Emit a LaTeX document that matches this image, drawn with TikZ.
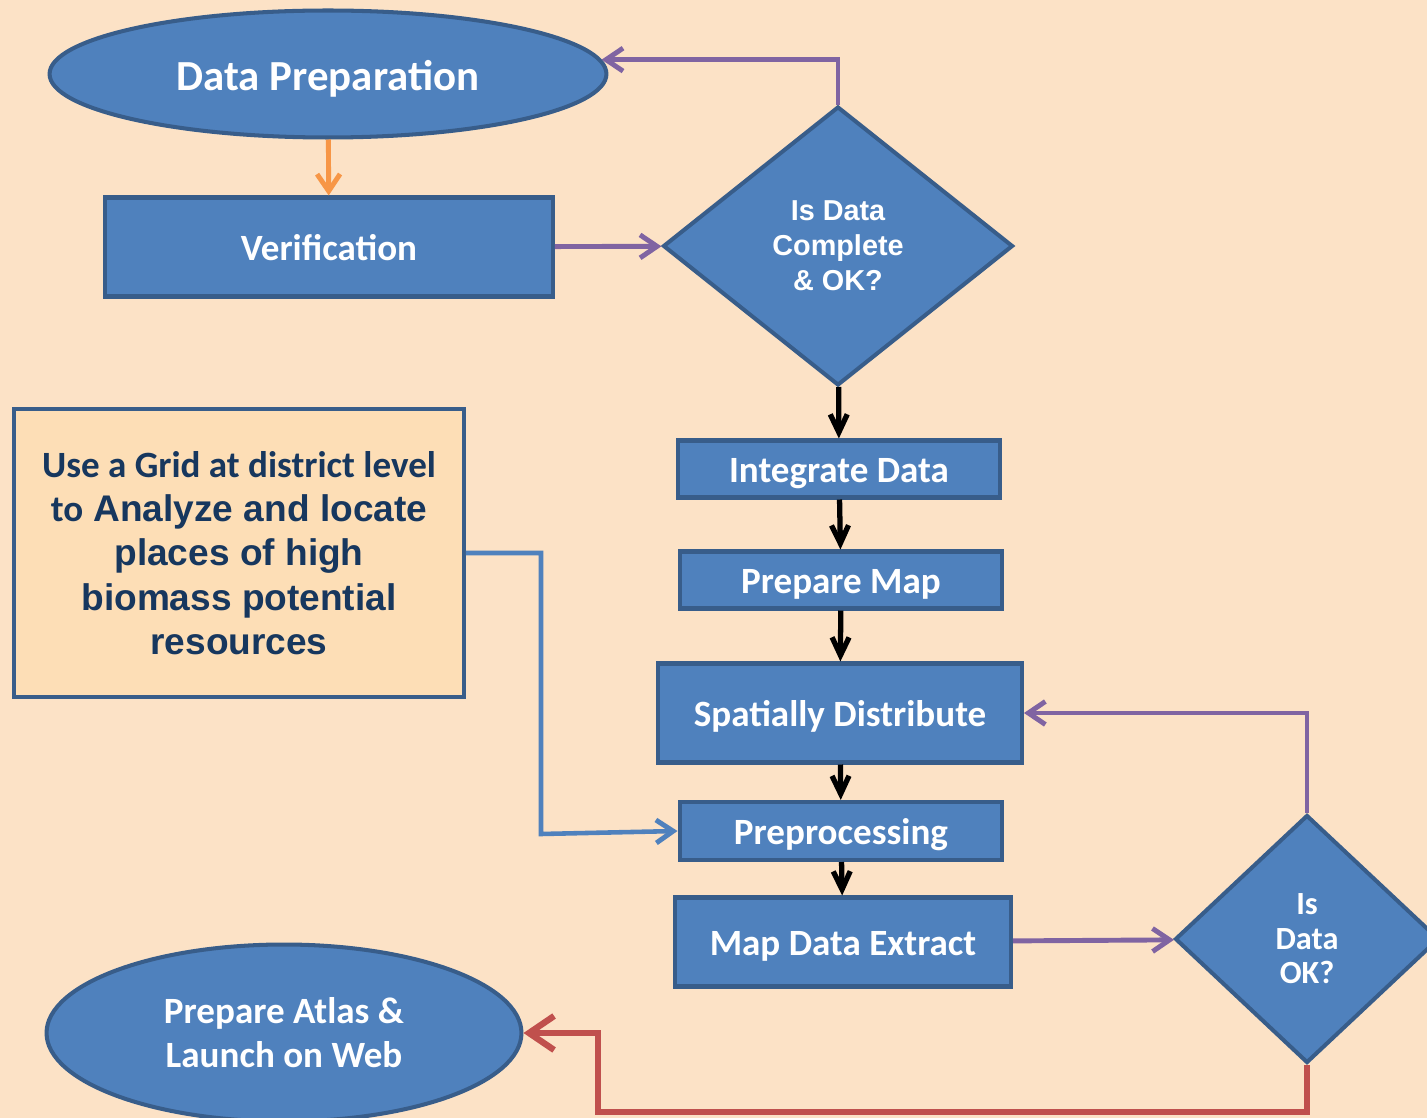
\documentclass[tikz,border=0pt]{standalone}
\usepackage{fontspec}
\setmainfont{Carlito}
\newfontfamily\arialfont{Liberation Sans}
\usetikzlibrary{shapes.geometric, arrows.meta}
\usetikzlibrary{positioning}
\usetikzlibrary{math}
\definecolor{bgpeach}{RGB}{252,226,198}
\definecolor{boxblue}{RGB}{79,129,189}
\definecolor{edgeblue}{RGB}{56,93,138}
\definecolor{notefill}{RGB}{253,222,182}
\definecolor{notetext}{RGB}{23,55,94}
\definecolor{loopviolet}{RGB}{128,100,162}
\definecolor{startorange}{RGB}{247,150,70}
\definecolor{backred}{RGB}{192,80,77}
\tikzstyle{process} = [rectangle, draw=edgeblue, fill=boxblue, line width=2.3pt, text=white, inner sep=0pt, align=center, text height=19pt, text depth=3.2pt, font=\fontsize{21.1}{25}\selectfont\bfseries]
\tikzstyle{startstop} = [ellipse, draw=edgeblue, fill=boxblue, line width=2.3pt, text=white, inner sep=0pt, align=center, font=\fontsize{21.1}{25}\selectfont\bfseries]
\tikzstyle{decision} = [diamond, draw=edgeblue, fill=boxblue, line width=2.3pt, text=white, inner sep=0pt, align=center, font=\bfseries]
\tikzstyle{note} = [rectangle, draw=edgeblue, fill=notefill, line width=2.3pt, text=notetext, inner sep=0pt, align=center, font=\fontsize{21.1}{25.2}\selectfont\bfseries\arialfont]
\tikzstyle{arrow} = [line width=2.8pt, -{Straight Barb[length=0.34cm, width=0.46cm, line width=2.8pt]}]
\tikzstyle{flow} = [line width=3pt, -{Straight Barb[length=0.36cm, width=0.34cm, line width=3pt]}]

\begin{document}
\begin{tikzpicture}[x=0.02cm, y=-0.02cm]

  \tikzmath{\colx = 841;}

  % page
  \fill[bgpeach] (0,0) rectangle (1427,1118);
  \useasboundingbox (0,0) rectangle (1427,1118);

  % top part
  \node[startstop, minimum width=11.14cm, minimum height=2.54cm, text height=22pt, text depth=3.7pt, font=\fontsize{24.4}{28}\selectfont\bfseries] (dp) at (328,74) {Data Preparation};
  \node[process, minimum width=8.96cm, minimum height=1.98cm] (ver) at (329,247) {Verification};
  \node[decision, minimum width=7.0cm, minimum height=5.58cm, font=\fontsize{16.4}{20}\selectfont\bfseries\arialfont] (d1) at (838,246) {Is Data\\ Complete\\ \& OK?};

  % main column
  \node[process, minimum width=6.44cm, minimum height=1.14cm] (int) at (839,469) {Integrate Data};
  \node[process, minimum width=6.46cm, minimum height=1.14cm] (pm) at (\colx,580) {Prepare Map};
  \node[process, minimum width=7.28cm, minimum height=1.98cm] (sd) at (840,713) {Spatially Distribute};
  \node[process, minimum width=6.46cm, minimum height=1.16cm] (pre) at (\colx,831) {Preprocessing};
  \node[process, minimum width=6.72cm, minimum height=1.78cm] (mde) at (843,942) {Map Data Extract};
  \node[decision, minimum width=5.28cm, minimum height=4.96cm, font=\fontsize{18.4}{19.6}\selectfont\bfseries] (d2) at (1307,939) {Is\\ Data\\ OK?};

  % side parts
  \node[note, minimum width=9.0cm, minimum height=5.76cm] (grid) at (239,553) {{\rmfamily Use a Grid at district level}\\ {\rmfamily to} Analyze and locate\\ places of high\\ biomass potential\\ resources};
  \node[startstop, minimum width=9.5cm, minimum height=3.54cm] (atlas) at (284,1033) {Prepare Atlas \&\\ Launch on Web};

  \coordinate (bluebend) at (541,834);
  \coordinate (redbend) at (598,1112);

  % connectors
  \draw[arrow, startorange] (dp) -- (ver);
  \draw[arrow, loopviolet] (ver) -- (d1);
  \draw[arrow, loopviolet] (d1.north) |- (dp.3);
  \draw[flow] (d1) -- (int);
  \draw[flow] (int) -- (pm);
  \draw[flow] (pm) -- (sd);
  \draw[flow] (sd) -- (pre);
  \draw[flow] (pre) -- (mde);
  \draw[arrow, loopviolet] (mde) -- (d2);
  \draw[arrow, loopviolet] (d2.north) |- (sd.east);
  \draw[arrow, boxblue, line width=2.6pt] (grid.east) -| (bluebend) -- (pre.west);
  \draw[backred, line width=3.6pt, -{Straight Barb[length=0.5cm, width=0.68cm, line width=3.6pt]}] (d2.south) |- (redbend) |- (atlas.east);

\end{tikzpicture}
\end{document}
